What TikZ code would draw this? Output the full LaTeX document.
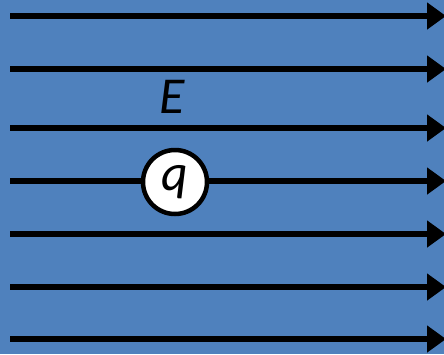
\documentclass[tikz,border=0pt]{standalone}
\usepackage{fontspec}
\setmainfont{Carlito}
\usetikzlibrary{arrows.meta}
\definecolor{fieldblue}{HTML}{4F81BD}
\begin{document}
\begin{tikzpicture}[x=1bp,y=-1bp,line width=5.5bp,font=\fontsize{52}{56}\selectfont\itshape,
  fieldline/.style={-{Triangle[length=19bp,width=26bp]}},
  charge/.style={circle,draw,fill=white,line width=4.5bp,minimum size=64bp,inner sep=0pt}]
\useasboundingbox (0,0) rectangle (444,354);
\clip (0,0) rectangle (444,354);
\fill[fieldblue] (0,0) rectangle (444,354);
\foreach \i/\y in {1/16,2/69,3/128,4/181,5/234,6/287,7/339}{
  \coordinate (s\i) at (10,\y);
  \coordinate (e\i) at (446,\y);
  \draw[fieldline] (s\i)--(e\i);
}
\node (lblE) at (172,97) {E};
\node[charge] (q) at (175,182) {\raisebox{-5bp}{q}};
\end{tikzpicture}
\end{document}
